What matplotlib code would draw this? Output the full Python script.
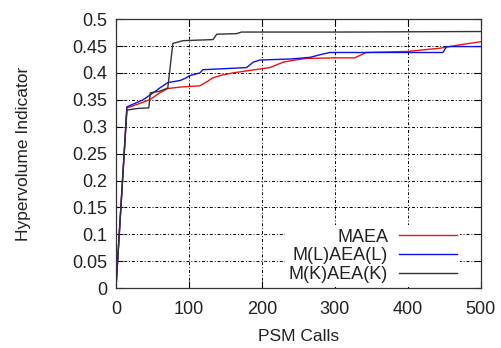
import matplotlib
matplotlib.use("Agg")
import matplotlib.pyplot as plt

plt.rcParams['font.family'] = ['Liberation Sans', 'DejaVu Sans']

# PSM calls / hypervolume for each algorithm (step-like progress curves)
maea_x = [0, 15, 30, 46, 60, 71, 90, 115, 125, 133, 145, 160, 185, 211, 220, 229, 245, 261, 300, 327, 335, 343, 400, 444, 470, 500]
maea_y = [0, 0.335, 0.342, 0.350, 0.363, 0.371, 0.374, 0.376, 0.384, 0.391, 0.396, 0.400, 0.405, 0.410, 0.415, 0.420, 0.424, 0.427, 0.428, 0.428, 0.433, 0.438, 0.440, 0.446, 0.452, 0.458]

mlaea_x = [0, 15, 37, 51, 60, 71, 88, 95, 101, 115, 119, 150, 179, 188, 197, 240, 266, 280, 293, 400, 448, 453, 500]
mlaea_y = [0, 0.337, 0.350, 0.363, 0.372, 0.382, 0.386, 0.390, 0.395, 0.400, 0.406, 0.408, 0.410, 0.420, 0.424, 0.426, 0.429, 0.434, 0.438, 0.438, 0.438, 0.449, 0.449]

mkaea_x = [0, 15, 30, 45, 47, 60, 71, 75, 78, 92, 133, 138, 165, 172, 300, 500]
mkaea_y = [0, 0.331, 0.334, 0.335, 0.363, 0.366, 0.372, 0.420, 0.455, 0.460, 0.462, 0.472, 0.473, 0.476, 0.476, 0.477]

series_labels = ['MAEA', 'M(L)AEA(L)', 'M(K)AEA(K)']
x_ticks = [0, 100, 200, 300, 400, 500]
y_ticks = [0, 0.05, 0.1, 0.15, 0.2, 0.25, 0.3, 0.35, 0.4, 0.45, 0.5]
y_tick_labels = ['0', '0.05', '0.1', '0.15', '0.2', '0.25', '0.3', '0.35', '0.4', '0.45', '0.5']

text_color = '#222222'

fig = plt.figure(figsize=(5.02, 3.48), dpi=100)
ax = fig.add_axes([0.231, 0.172, 0.727, 0.773])

ax.plot(maea_x, maea_y, color='#ee1111', lw=1.0, label=series_labels[0], zorder=3)
ax.plot(mlaea_x, mlaea_y, color='#1111dd', lw=1.0, label=series_labels[1], zorder=3)
ax.plot(mkaea_x, mkaea_y, color='#333333', lw=1.0, label=series_labels[2], zorder=3)

ax.set_xlim(0, 500)
ax.set_ylim(0, 0.5)
ax.set_xticks(x_ticks)
ax.set_yticks(y_ticks)
ax.set_yticklabels(y_tick_labels)
ax.tick_params(direction='in', length=5, width=0.8, top=True, right=True,
               labelsize=13, labelcolor=text_color)
ax.tick_params(axis='x', pad=9)
ax.tick_params(axis='y', pad=6)
ax.grid(True, color='black', lw=0.7, linestyle=(0, (3, 2, 1, 2)))
for s in ax.spines.values():
    s.set_linewidth(0.9)
    s.set_color('#333333')

ax.set_xlabel('PSM Calls', fontsize=12.5, labelpad=8, color=text_color)
ax.set_ylabel('Hypervolume Indicator', fontsize=12.5, labelpad=30, color=text_color)

leg = ax.legend(loc='lower right', bbox_to_anchor=(0.973, -0.035), markerfirst=False,
                frameon=True, fontsize=13, handlelength=3.2, handletextpad=0.6,
                labelspacing=0.1, borderaxespad=0.6, borderpad=0.2, fancybox=False)
leg.get_frame().set_edgecolor('none')
leg.get_frame().set_facecolor('white')
leg.get_frame().set_alpha(1.0)
for t in leg.get_texts():
    t.set_ha('right')
    t.set_color(text_color)
leg.set_zorder(5)

fig.savefig('out.png', dpi=100)
